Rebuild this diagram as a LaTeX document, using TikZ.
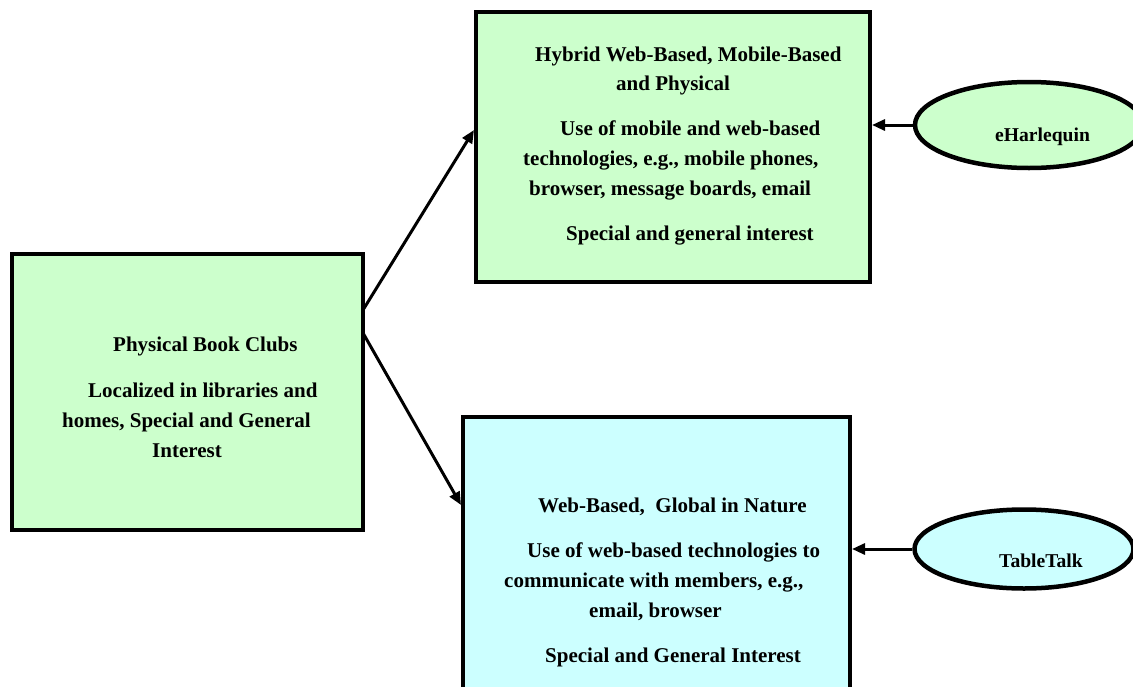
\documentclass[tikz,border=0pt]{standalone}
\usepackage{fontspec}
\setmainfont{Liberation Serif}
\usetikzlibrary{arrows.meta,calc,shapes.geometric}
\definecolor{lgreen}{HTML}{CCFFCC}
\definecolor{lcyan}{HTML}{CCFFFF}
\tikzset{
  boxshape/.style={draw=black,line width=4pt,rectangle,inner sep=0pt,anchor=north west},
  ellshape/.style={draw=black,line width=4.5pt,ellipse,inner sep=0pt},
  txt/.style={anchor=base west,inner sep=0pt,font=\fontsize{21}{30}\selectfont\bfseries},
  etxt/.style={anchor=base west,inner sep=0pt,font=\fontsize{19.6}{24}\selectfont\bfseries},
  arr/.style={line width=3pt,-{Triangle[length=13pt,width=11pt]}}
}
\begin{document}
\begin{tikzpicture}[x=1pt,y=-1pt]
\useasboundingbox (0,0) rectangle (1133,686);
\clip (0,0) rectangle (1133,686);
% boxes
\node[boxshape,fill=lgreen,minimum width=351,minimum height=276] (left) at (10,252) {};
\node[boxshape,fill=lgreen,minimum width=394,minimum height=270] (top) at (474,10) {};
\node[boxshape,fill=lcyan,minimum width=387,minimum height=300] (bot) at (461,415) {};
% ellipses
\node[ellshape,fill=lgreen,minimum width=228,minimum height=86] (e1) at (1029,125) {};
\node[ellshape,fill=lcyan,minimum width=219,minimum height=79] (e2) at (1024,549) {};
% left box text
\node[txt] (l1) at (113,351) {Physical Book Clubs};
\node[txt] (l2) at (88,397) {Localized in libraries and};
\node[txt] (l3) at (62,427) {homes, Special and General};
\node[txt] (l4) at (152,457) {Interest};
% top box text
\node[txt] (a1) at (535,61) {Hybrid Web-Based, Mobile-Based};
\node[txt] (a2) at (616,90) {and Physical};
\node[txt] (a3) at (560,135) {Use of mobile and web-based};
\node[txt] (a4) at (523,165) {technologies, e.g., mobile phones,};
\node[txt] (a5) at (529,195) {browser, message boards, email};
\node[txt] (a6) at (566,240) {Special and general interest};
% bottom box text
\node[txt] (b1) at (538,512) {Web-Based,\ \ Global in Nature};
\node[txt] (b2) at (527,557) {Use of web-based technologies to};
\node[txt] (b3) at (504,587) {communicate with members, e.g.,};
\node[txt] (b4) at (589,617) {email, browser};
\node[txt] (b5) at (545,662) {Special and General Interest};
% ellipse text
\node[etxt] (e1t) at (995,141) {eHarlequin};
\node[etxt] (e2t) at (999,567) {TableTalk};
% connectors
\draw[arr] ($(left.north east)+(-2,58)$) -- ($(top.north west)+(0,120)$);
\draw[arr] ($(left.north east)+(-2,81)$) -- ($(bot.north west)+(0,90)$);
\draw[arr] (e1.west) -- (e1.west -| top.east);
\draw[arr] (e2.west) -- (e2.west -| bot.east);
\end{tikzpicture}
\end{document}
